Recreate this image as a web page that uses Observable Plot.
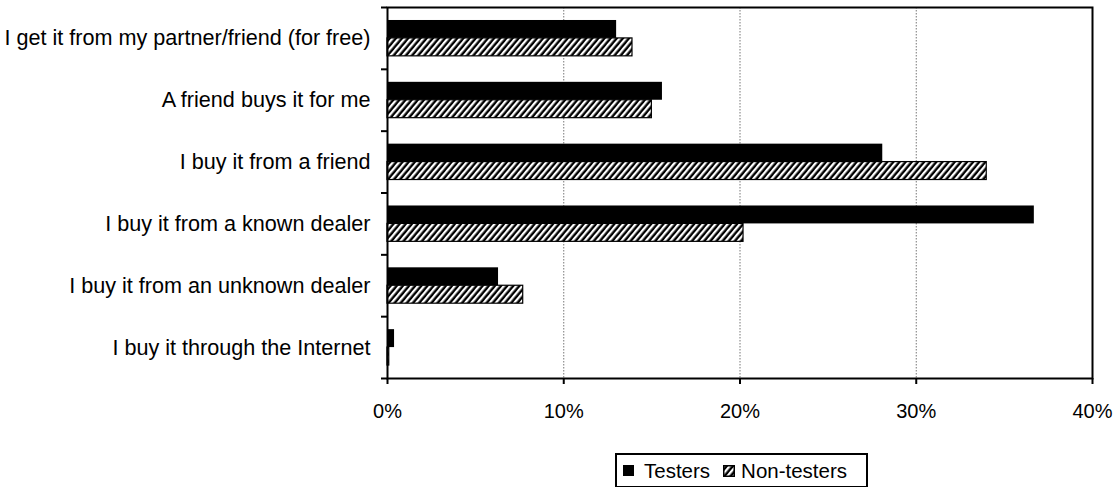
<!DOCTYPE html>
<html>
<head>
<meta charset="utf-8">
<script src="https://cdn.jsdelivr.net/npm/d3@7"></script>
<script src="https://cdn.jsdelivr.net/npm/@observablehq/plot@0.6"></script>
<style>
  body { margin: 0; background: #fff; font-family: "Liberation Sans", Arial, sans-serif; }
  #chart { position: relative; width: 1118px; height: 487px; overflow: hidden; }
  #chart svg.main { position: absolute; left: 0; top: 0; }
  .legend {
    position: absolute; left: 615px; top: 453px; width: 249px; height: 31px;
    border: 2px solid #000; display: flex; align-items: center;
    font-size: 20.5px; color: #000; white-space: nowrap;
  }
  .legend .sw { display: inline-block; width: 11px; height: 11px; }
</style>
</head>
<body>
<div id="chart"></div>
<script>
// Where people get it, share of respondents (%)
const categories = [
  "I get it from my partner/friend (for free)",
  "A friend buys it for me",
  "I buy it from a friend",
  "I buy it from a known dealer",
  "I buy it from an unknown dealer",
  "I buy it through the Internet"
];
const testers    = [13.0, 15.6, 28.1, 36.7, 6.3, 0.4];
const nonTesters = [13.9, 15.0, 34.0, 20.2, 7.7, 0.1];
const seriesNames = ["Testers", "Non-testers"];
const xTicks = [0, 10, 20, 30, 40];

const rows = categories.map((category, index) => ({
  category, index, testers: testers[index], nonTesters: nonTesters[index]
}));

// each category owns one unit of the y scale; the pair of bars sits in its middle
const pad = 0.21;
const mid = 0.5;

const plot = Plot.plot({
  width: 1118,
  height: 440,
  marginTop: 7,
  marginBottom: 62,
  marginLeft: 387,
  marginRight: 26,
  style: { fontFamily: "Liberation Sans, Arial, sans-serif", fontSize: "20px", color: "#000", background: "transparent" },
  x: { domain: [0, 40] },
  y: { domain: [categories.length, 0] },
  marks: [
    Plot.ruleX(xTicks.slice(1, -1), { stroke: "#777", strokeWidth: 1, strokeDasharray: "1.5,1.5" }),
    Plot.rect(rows, { x1: 0, x2: "testers", y1: d => d.index + pad, y2: d => d.index + mid, fill: "#000" }),
    Plot.rect(rows, { x1: 0, x2: "nonTesters", y1: d => d.index + mid, y2: d => d.index + 1 - pad,
      fill: "url(#hatch)", stroke: "#000", strokeWidth: 1.2 }),
    Plot.frame({ stroke: "#000", strokeWidth: 2 }),
    Plot.axisX(xTicks, { tickSize: 6, tickPadding: 19, strokeWidth: 2, fontSize: "20px",
      tickFormat: d => d + "%", label: null }),
    Plot.axisY(d3.range(categories.length + 1), { tickSize: 6, strokeWidth: 2, tickFormat: () => "", label: null }),
    Plot.axisY(categories.map((c, i) => i + 0.5), { tickSize: 0, tickPadding: 17, fontSize: "21.6px",
      tickFormat: v => categories[Math.floor(v)], label: null })
  ]
});
plot.classList.add("main");

// diagonal hatch used by the non-tester bars
function addHatch(svgNode, id) {
  const defs = d3.select(svgNode).insert("defs", ":first-child");
  const p = defs.append("pattern")
    .attr("id", id)
    .attr("patternUnits", "userSpaceOnUse")
    .attr("width", 4.7).attr("height", 10)
    .attr("patternTransform", "rotate(40)");
  p.append("rect").attr("width", 4.7).attr("height", 10).attr("fill", "#000");
  p.append("rect").attr("width", 2.3).attr("height", 10).attr("fill", "#fff");
}
addHatch(plot, "hatch");

const chart = document.getElementById("chart");
chart.appendChild(plot);

// legend below the plot
const legend = document.createElement("div");
legend.className = "legend";
legend.innerHTML = `
  <span class="sw" style="background:#000;margin-left:6px;"></span>
  <span style="margin-left:10px;">${seriesNames[0]}</span>
  <svg width="12" height="12" style="margin-left:13px;">
    <defs><pattern id="hatchLegend" patternUnits="userSpaceOnUse" width="4.7" height="10" patternTransform="rotate(40)">
      <rect width="4.7" height="10" fill="#000"></rect><rect width="2.3" height="10" fill="#fff"></rect>
    </pattern></defs>
    <rect x="0.75" y="0.75" width="10.5" height="10.5" fill="url(#hatchLegend)" stroke="#000" stroke-width="1.5"></rect>
  </svg>
  <span style="margin-left:6px;">${seriesNames[1]}</span>`;
chart.appendChild(legend);
</script>
</body>
</html>
